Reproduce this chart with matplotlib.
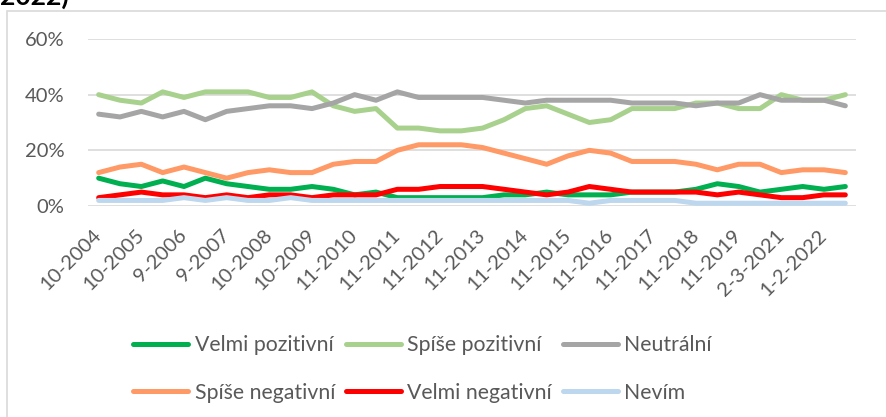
import matplotlib
matplotlib.use("Agg")
import matplotlib.pyplot as plt
from matplotlib.patches import Rectangle
from matplotlib.lines import Line2D

categories = ["10-2004", "4-2005", "10-2005", "5-2006", "9-2006", "3-2007", "9-2007", "3-2008",
              "10-2008", "4-2009", "10-2009", "4-2010", "11-2010", "5-2011", "11-2011", "5-2012",
              "11-2012", "5-2013", "11-2013", "5-2014", "11-2014", "5-2015", "11-2015", "5-2016",
              "11-2016", "5-2017", "11-2017", "5-2018", "11-2018", "5-2019", "11-2019", "5-2020",
              "2-3-2021", "10-2021", "1-2-2022", "5-2022"]

velmi_pozitivni = [10, 8, 7, 9, 7, 10, 8, 7, 6, 6, 7, 6, 4, 5, 3, 3, 3, 3,
                   3, 4, 4, 5, 4, 4, 4, 5, 5, 5, 6, 8, 7, 5, 6, 7, 6, 7]
spise_pozitivni = [40, 38, 37, 41, 39, 41, 41, 41, 39, 39, 41, 36, 34, 35, 28, 28, 27, 27,
                   28, 31, 35, 36, 33, 30, 31, 35, 35, 35, 37, 37, 35, 35, 40, 38, 38, 40]
neutralni = [33, 32, 34, 32, 34, 31, 34, 35, 36, 36, 35, 37, 40, 38, 41, 39, 39, 39,
             39, 38, 37, 38, 38, 38, 38, 37, 37, 37, 36, 37, 37, 40, 38, 38, 38, 36]
spise_negativni = [12, 14, 15, 12, 14, 12, 10, 12, 13, 12, 12, 15, 16, 16, 20, 22, 22, 22,
                   21, 19, 17, 15, 18, 20, 19, 16, 16, 16, 15, 13, 15, 15, 12, 13, 13, 12]
velmi_negativni = [3, 4, 5, 4, 4, 3, 4, 3, 4, 4, 3, 4, 4, 4, 6, 6, 7, 7,
                   7, 6, 5, 4, 5, 7, 6, 5, 5, 5, 5, 4, 5, 4, 3, 3, 4, 4]
nevim = [2, 2, 2, 2, 3, 2, 3, 2, 2, 3, 2, 2, 2, 2, 2, 2, 2, 2,
         2, 2, 2, 2, 2, 1, 2, 2, 2, 2, 1, 1, 1, 1, 1, 1, 1, 1]

series_names = ["Velmi pozitivní", "Spíše pozitivní", "Neutrální",
                "Spíše negativní", "Velmi negativní", "Nevím"]
series_values = [velmi_pozitivni, spise_pozitivni, neutralni,
                 spise_negativni, velmi_negativni, nevim]
colors = ["#00B050", "#A9D18E", "#A5A5A5", "#FF9966", "#FF0000", "#BDD7EE"]
y_ticks = [0, 20, 40, 60]

plt.rcParams["font.family"] = ["Lato", "DejaVu Sans"]

W, H = 886, 417
fig = plt.figure(figsize=(W / 100, H / 100), dpi=100)
ax = fig.add_axes([88 / W, (H - 206) / H, (856 - 88) / W, (206 - 39) / H])

x = list(range(len(categories)))
for name, vals, c in zip(series_names, series_values, colors):
    ax.plot(x, [v / 100 for v in vals], color=c, lw=3.6, solid_capstyle="round",
            solid_joinstyle="round", label=name)

ax.set_xlim(-0.5, len(categories) - 0.5)
ax.set_ylim(0, 0.6)
ax.set_yticks([t / 100 for t in y_ticks])
ax.set_yticklabels([f"{t}%" for t in y_ticks])
ax.grid(axis="y", color="#D9D9D9", lw=1.2)
ax.set_axisbelow(True)
for s in ax.spines.values():
    s.set_visible(False)

shown = x[::2]
ax.set_xticks(shown)
ax.set_xticklabels([categories[i] for i in shown], rotation=45, ha="right",
                   va="center", rotation_mode="anchor")
ax.tick_params(axis="x", length=0, pad=19, labelsize=14.5, labelcolor="#595959")
ax.tick_params(axis="y", length=0, pad=17, labelsize=14.5, labelcolor="#595959")

# legend (row-wise order)
handles = {n: Line2D([], [], color=c, lw=3.6, solid_capstyle="round")
           for n, c in zip(series_names, colors)}
order = [0, 3, 1, 4, 2, 5]
leg = fig.legend([handles[series_names[i]] for i in order],
                 [series_names[i] for i in order],
                 ncol=3, loc="upper left", bbox_to_anchor=(133 / W, 1 - 335 / H),
                 frameon=False, fontsize=15.3, handlelength=2.6, handletextpad=0.3,
                 columnspacing=0.5, labelspacing=1.3, borderpad=0, borderaxespad=0)
for t in leg.get_texts():
    t.set_color("#595959")

# chart frame and cut-off title
fig.patches.append(Rectangle((7 / W, -0.2), 2, 1.2 - 11 / H, transform=fig.transFigure,
                             fill=False, edgecolor="#D9D9D9", lw=1.2))
fig.text(0.0, 1 - 5 / H, "2022)", fontsize=19, fontweight="bold", color="black",
         ha="left", va="baseline")

fig.savefig("out.png", dpi=100)
